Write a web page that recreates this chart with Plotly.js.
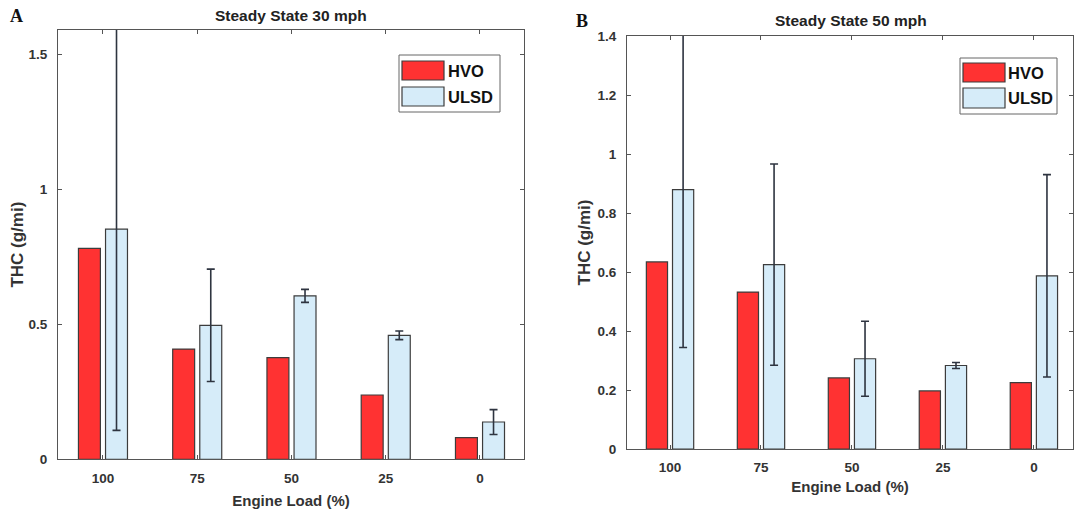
<!DOCTYPE html>
<html>
<head>
<meta charset="utf-8">
<script src="https://cdn.plot.ly/plotly-3.0.1.min.js"></script>
<style>html,body{margin:0;padding:0;background:#fff;}#chart{width:1075px;height:518px;}</style>
</head>
<body>
<div id="chart"></div>
<script>
// ---- data ----
const engineLoad = ['100', '75', '50', '25', '0'];
const seriesNames = ['HVO', 'ULSD'];
// Panel A: Steady State 30 mph
const hvo30 = [0.781, 0.408, 0.376, 0.238, 0.080];
const ulsd30 = [0.852, 0.496, 0.605, 0.459, 0.138];
const ulsd30Err = [0.745, 0.208, 0.024, 0.016, 0.046];
// Panel B: Steady State 50 mph
const hvo50 = [0.634, 0.532, 0.241, 0.197, 0.225];
const ulsd50 = [0.879, 0.625, 0.306, 0.283, 0.587];
const ulsd50Err = [0.535, 0.341, 0.127, 0.010, 0.343];
const yTicksA = [0, 0.5, 1, 1.5];
const yTicksB = [0, 0.2, 0.4, 0.6, 0.8, 1, 1.2, 1.4];

// ---- styling ----
const W = 1075, H = 518;
const px = x => x / W;
const py = y => (H - y) / H;
const red = '#ff3232', blue = '#d6ecf9', edge = '#3c3c3c';
const FONT = 'Liberation Sans, Arial, sans-serif';

function barTrace(name, x, y, color, err, xa, ya) {
  const t = {
    type: 'bar', name: name, x: x, y: y, xaxis: xa, yaxis: ya,
    marker: {color: color, line: {color: edge, width: 1.2}},
    showlegend: false
  };
  if (err) t.error_y = {type: 'data', array: err, visible: true, color: '#2e3440', thickness: 1.6, width: 4};
  return t;
}

const data = [
  barTrace(seriesNames[0], engineLoad, hvo30, red, null, 'x', 'y'),
  barTrace(seriesNames[1], engineLoad, ulsd30, blue, ulsd30Err, 'x', 'y'),
  barTrace(seriesNames[0], engineLoad, hvo50, red, null, 'x2', 'y2'),
  barTrace(seriesNames[1], engineLoad, ulsd50, blue, ulsd50Err, 'x2', 'y2')
];

const tickFont = {family: FONT, size: 13.5, color: '#333', weight: 'bold'};
const xTitleFont = {family: FONT, size: 15, color: '#333', weight: 'bold'};
const yTitleFont = {family: FONT, size: 17, color: '#333', weight: 'bold'};

function xAxis(domain, range, anchor, standoff) {
  return {
    domain: domain, range: range, type: 'category', anchor: anchor,
    showline: true, linecolor: '#555', linewidth: 1, mirror: 'allticks',
    ticks: 'inside', ticklen: 4, tickcolor: '#555', showgrid: false, zeroline: false,
    tickfont: tickFont, ticklabelstandoff: 6,
    title: {text: 'Engine Load (%)', font: xTitleFont, standoff: standoff}
  };
}
function yAxis(domain, range, tickvals, anchor, standoff) {
  return {
    domain: domain, range: range, anchor: anchor,
    tickvals: tickvals, ticktext: tickvals.map(String),
    showline: true, linecolor: '#555', linewidth: 1, mirror: 'allticks',
    ticks: 'inside', ticklen: 4, tickcolor: '#555', showgrid: false, zeroline: false,
    tickfont: tickFont, ticklabelstandoff: 7,
    title: {text: 'THC (g/mi)', font: yTitleFont, standoff: standoff}
  };
}

const shapes = [], annotations = [];
function legendBox(x0, y0, x1, y1, sx0, sx1, rows, tx) {
  shapes.push({type: 'rect', xref: 'paper', yref: 'paper', x0: px(x0), x1: px(x1), y0: py(y1), y1: py(y0),
    line: {color: '#666', width: 1}, fillcolor: '#fff'});
  rows.forEach(r => {
    shapes.push({type: 'rect', xref: 'paper', yref: 'paper', x0: px(sx0), x1: px(sx1), y0: py(r.b), y1: py(r.t),
      line: {color: edge, width: 1.2}, fillcolor: r.color});
    annotations.push({xref: 'paper', yref: 'paper', x: px(tx), y: py((r.t + r.b) / 2), xanchor: 'left', yanchor: 'middle',
      text: r.label, showarrow: false, font: {family: FONT, size: 16.5, color: '#111', weight: 'bold'}});
  });
}
legendBox(399, 55, 500, 112, 402, 444, [
  {t: 61, b: 80, color: red, label: seriesNames[0]},
  {t: 87, b: 106, color: blue, label: seriesNames[1]}], 446);
legendBox(960, 58, 1057, 114, 963, 1005, [
  {t: 63, b: 82, color: red, label: seriesNames[0]},
  {t: 88, b: 108, color: blue, label: seriesNames[1]}], 1006);

annotations.push({xref: 'paper', yref: 'paper', x: px(291), y: py(15), xanchor: 'center', yanchor: 'middle',
  text: 'Steady State 30 mph', showarrow: false, font: {family: FONT, size: 15.5, color: '#222', weight: 'bold'}});
annotations.push({xref: 'paper', yref: 'paper', x: px(851), y: py(20), xanchor: 'center', yanchor: 'middle',
  text: 'Steady State 50 mph', showarrow: false, font: {family: FONT, size: 15.5, color: '#222', weight: 'bold'}});
annotations.push({xref: 'paper', yref: 'paper', x: px(16), y: py(16), xanchor: 'center', yanchor: 'middle',
  text: 'A', showarrow: false, font: {family: 'Liberation Serif, Times New Roman, serif', size: 18, color: '#111', weight: 'bold'}});
annotations.push({xref: 'paper', yref: 'paper', x: px(582), y: py(21), xanchor: 'center', yanchor: 'middle',
  text: 'B', showarrow: false, font: {family: 'Liberation Serif, Times New Roman, serif', size: 18, color: '#111', weight: 'bold'}});

const layout = {
  width: W, height: H, margin: {l: 0, r: 0, t: 0, b: 0},
  paper_bgcolor: '#fff', plot_bgcolor: '#fff',
  barmode: 'group', bargap: 0.425, bargroupgap: 0.19,
  showlegend: false,
  xaxis: xAxis([px(58), px(524)], [-0.477, 4.467], 'y', 10),
  yaxis: yAxis([py(459.3), py(30)], [0, 1.589], yTicksA, 'x', 0),
  xaxis2: xAxis([px(627), px(1073)], [-0.473, 4.43], 'y2', 7),
  yaxis2: yAxis([py(449), py(36)], [0, 1.4], yTicksB, 'x2', 2),
  shapes: shapes, annotations: annotations
};

Plotly.newPlot('chart', data, layout, {displayModeBar: false, staticPlot: true});
</script>
</body>
</html>
